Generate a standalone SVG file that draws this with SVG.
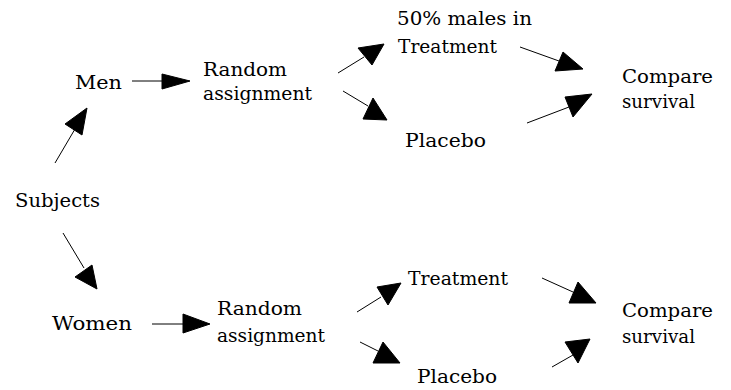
<svg xmlns="http://www.w3.org/2000/svg" width="731" height="390" viewBox="0 0 731 390">
<style>
  .t { font-family: 'DejaVu Serif', serif; font-size: 18px; fill: #000; }
  .ln { stroke: #000; stroke-width: 1; fill: none; }
  .hd { fill: #000; stroke: #000; stroke-width: 1; stroke-linejoin: round; }
</style>
<rect width="731" height="390" fill="#fff"/>
<g id="subjects"><text class="t" x="15" y="207" textLength="85" lengthAdjust="spacingAndGlyphs">Subjects</text></g>
<g id="men"><text class="t" x="75" y="89" textLength="47" lengthAdjust="spacingAndGlyphs">Men</text></g>
<g id="random-men"><text class="t" x="203" y="76" textLength="84" lengthAdjust="spacingAndGlyphs">Random</text><text class="t" x="203" y="100" textLength="109" lengthAdjust="spacingAndGlyphs">assignment</text></g>
<g id="treatment-men"><text class="t" x="397" y="25" textLength="135" lengthAdjust="spacingAndGlyphs">50% males in</text><text class="t" x="398" y="53" textLength="99" lengthAdjust="spacingAndGlyphs">Treatment</text></g>
<g id="placebo-men"><text class="t" x="405" y="147" textLength="81" lengthAdjust="spacingAndGlyphs">Placebo</text></g>
<g id="compare-men"><text class="t" x="622" y="83" textLength="91" lengthAdjust="spacingAndGlyphs">Compare</text><text class="t" x="622" y="108" textLength="73" lengthAdjust="spacingAndGlyphs">survival</text></g>
<g id="women"><text class="t" x="52" y="330" textLength="80" lengthAdjust="spacingAndGlyphs">Women</text></g>
<g id="random-women"><text class="t" x="217" y="315" textLength="85" lengthAdjust="spacingAndGlyphs">Random</text><text class="t" x="217" y="342" textLength="108" lengthAdjust="spacingAndGlyphs">assignment</text></g>
<g id="treatment-women"><text class="t" x="408" y="285" textLength="100" lengthAdjust="spacingAndGlyphs">Treatment</text></g>
<g id="placebo-women"><text class="t" x="417" y="383" textLength="80" lengthAdjust="spacingAndGlyphs">Placebo</text></g>
<g id="compare-women"><text class="t" x="622" y="317" textLength="91" lengthAdjust="spacingAndGlyphs">Compare</text><text class="t" x="622" y="343" textLength="73" lengthAdjust="spacingAndGlyphs">survival</text></g>
<g id="connectors">
  <line class="ln" x1="55" y1="163" x2="75" y2="129"/>
  <polygon class="hd" points="87,108 65,124 82,135"/>
  <line class="ln" x1="132" y1="81" x2="163" y2="81"/>
  <polygon class="hd" points="190,81 162,74 162,89"/>
  <line class="ln" x1="338" y1="73" x2="364" y2="57"/>
  <polygon class="hd" points="358,48 384,44 372,65"/>
  <line class="ln" x1="343" y1="91" x2="368" y2="106"/>
  <polygon class="hd" points="373,98 363,119 387,120"/>
  <line class="ln" x1="520" y1="47" x2="559" y2="61"/>
  <polygon class="hd" points="563,52 555,71 583,69"/>
  <line class="ln" x1="527" y1="123" x2="569" y2="107"/>
  <polygon class="hd" points="565,97 592,94 573,117"/>
  <line class="ln" x1="63" y1="233" x2="84" y2="268"/>
  <polygon class="hd" points="75,277 92,265 97,289"/>
  <line class="ln" x1="152" y1="324" x2="184" y2="324"/>
  <polygon class="hd" points="210,324 183,314 183,333"/>
  <line class="ln" x1="357" y1="312" x2="381" y2="297"/>
  <polygon class="hd" points="377,287 401,283 388,305"/>
  <line class="ln" x1="360" y1="342" x2="378" y2="351"/>
  <polygon class="hd" points="383,342 373,363 400,363"/>
  <line class="ln" x1="542" y1="278" x2="573" y2="292"/>
  <polygon class="hd" points="578,282 569,303 596,303"/>
  <line class="ln" x1="552" y1="367" x2="573" y2="355"/>
  <polygon class="hd" points="565,342 590,339 578,363"/>
</g>
</svg>
